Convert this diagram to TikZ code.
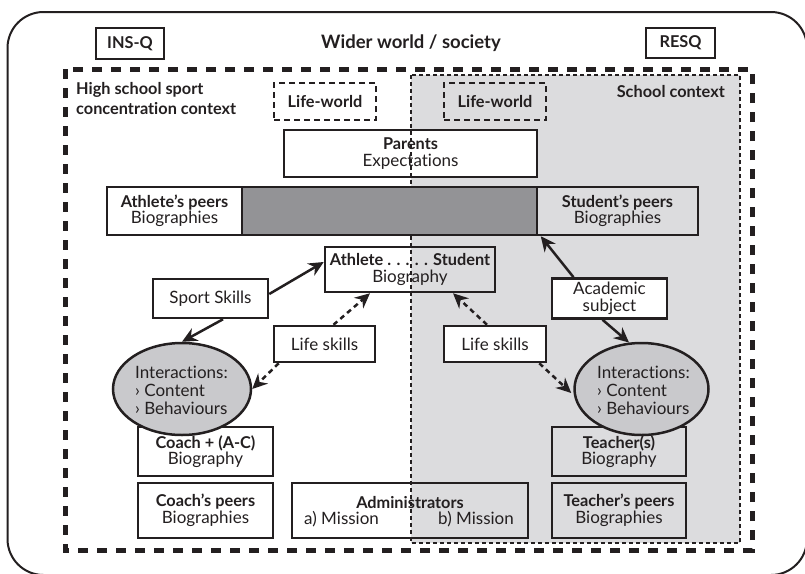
\documentclass[tikz,border=0pt]{standalone}
\usepackage{fontspec}
\setmainfont[Ligatures={NoCommon}]{Lato}
\usetikzlibrary{arrows.meta,calc,shapes.geometric}
\definecolor{ctxgray}{HTML}{DCDCDE}
\definecolor{bargray}{HTML}{939396}
\definecolor{ellgray}{HTML}{C9C9CC}
\definecolor{ink}{HTML}{231F20}
\newcommand{\rsz}{\fontsize{17}{16.5}\selectfont}
\newcommand{\bsz}{\fontsize{16.3}{16.5}\selectfont\bfseries}
\begin{document}
\begin{tikzpicture}[x=1pt,y=-1pt,
  txt/.style={font=\rsz, text=ink, inner sep=0pt},
  btxt/.style={font=\bsz, text=ink, inner sep=0pt},
  box/.style={draw=ink, line width=2.5pt, inner sep=0pt, align=center,
    font=\rsz, text=ink},
  wbox/.style={box, fill=white},
  lwbox/.style={draw=ink, line width=2pt, dash pattern=on 6pt off 4pt, inner sep=0pt,
    font=\bsz, text=ink},
  ellbox/.style={ellipse, draw=ink, line width=2.5pt, fill=ellgray, inner sep=0pt},
  arr/.style={draw=ink, line width=2.5pt, -{Stealth[length=15pt,width=14pt]}},
  darr/.style={arr, dash pattern=on 5pt off 4pt},
]
\useasboundingbox (0,0) rectangle (805,573);
% outer frame
\draw[ink, line width=2pt, rounded corners=36pt] (7.5,12) rectangle (807,575);
% school context fill
\fill[ctxgray] (411,75) rectangle (740,543);
% header
\node[box, line width=2pt, font=\bsz, minimum width=68pt, minimum height=31pt] (insq) at (130,43.5) {INS-Q};
\node[box, line width=2pt, font=\bsz, minimum width=69pt, minimum height=30pt] (resq) at (680.5,42.5) {RESQ};
\node[btxt, font=\fontsize{18.5}{19}\selectfont\bfseries] (wider) at (411,43) {Wider world / society};
% contexts
\node[btxt, align=left, anchor=north west, font=\fontsize{16.3}{20.5}\selectfont\bfseries] (hs) at (76,82) {High school sport\\concentration context};
\node[btxt, anchor=east] (sc) at (725,92) {School context};
\node[lwbox, minimum width=102pt, minimum height=37pt] (lw1) at (325,101.5) {Life-world};
\node[lwbox, minimum width=102pt, minimum height=37pt] (lw2) at (495,101.5) {Life-world};
% parents
\node[wbox, minimum width=253pt, minimum height=47pt] (par) at (410.5,153.5) {{\bsz Parents}\\Expectations};
% athlete box and other boxes
\node[box, minimum width=170pt, minimum height=45pt] (ath) at (410,269.5) {{\bsz Athlete . . . . . Student}\\Biography};
\node[wbox, minimum width=115pt, minimum height=39pt] (sport) at (210.5,298.5) {Sport Skills};
\node[wbox, minimum width=101pt, minimum height=36pt] (ls1) at (324.5,344) {Life skills};
\node[wbox, minimum width=102pt, minimum height=36pt] (ls2) at (495,344) {Life skills};
\node[wbox, minimum width=115pt, minimum height=40pt] (acad) at (609.5,298.5) {Academic\\subject};
\node[box, minimum width=135pt, minimum height=49pt] (coach) at (205.5,451.5) {{\bsz Coach + (A-C)}\\Biography};
\node[box, minimum width=134pt, minimum height=49pt] (teach) at (619,451.5) {{\bsz Teacher(s)}\\Biography};
\node[box, minimum width=135pt, minimum height=55pt] (cpeer) at (205.5,510.5) {{\bsz Coach’s peers}\\Biographies};
\node[box, minimum width=134pt, minimum height=55pt] (tpeer) at (619,510.5) {{\bsz Teacher’s peers}\\Biographies};
\node[box, minimum width=236pt, minimum height=55pt] (adm) at (410,510.5) {};
\node[btxt] (admt) at (410,503) {Administrators};
\node[txt, anchor=west] (ama) at (304,519) {a) Mission};
\node[txt, anchor=east] (amb) at (514,519) {b) Mission};
% ellipses
\node[ellbox, minimum width=138pt, minimum height=92pt] (e1) at (182,389) {};
\node[ellbox, minimum width=134pt, minimum height=92pt] (e2) at (641.5,389) {};
\node[txt, align=left, anchor=west, font=\fontsize{17}{18}\selectfont] (e1t) at (135,390) {Interactions:\\› Content\\› Behaviours};
\node[txt, align=left, anchor=west, font=\fontsize{17}{18}\selectfont] (e2t) at (597,390) {Interactions:\\› Content\\› Behaviours};
% school context border
\draw[ink, line width=1.5pt, dash pattern=on 4pt off 3pt] (411,75) rectangle (740,543);
% peers bar
\node[box, minimum width=135pt, minimum height=48pt] (apeer) at (174.5,211) {{\bsz Athlete’s peers}\\Biographies};
\node[box, fill=bargray, minimum width=295pt, minimum height=48pt] (bar) at (389.5,211) {};
\node[box, minimum width=161pt, minimum height=48pt] (speer) at (617.5,211) {{\bsz Student’s peers}\\Biographies};
% high school outer dashed
\draw[ink, line width=5pt, dash pattern=on 10pt off 9pt] (65,69) rectangle (752,550);
% arrows
\draw[arr] ($(sport.east)+(0,-4.5)$) -- ($(ath.west)+(0,-7.5)$);
\draw[arr] ($(sport.south)+(12.5,0)$) -- (e1.north);
\draw[darr] ($(ls1.north)+(9,0)$) -- ($(ath.south)+(-40,0)$);
\draw[darr] ($(ls1.south west)+(6,0)$) -- (e1.east);
\draw[darr] ($(ls2.north)+(-8,0)$) -- ($(ath.south)+(43,0)$);
\draw[darr] ($(ls2.south east)+(-8,0)$) -- ($(e2.west)+(-2,4)$);
\draw[arr] ($(acad.north)+(-36,0)$) -- ($(speer.south west)+(5,0)$);
\draw[arr] ($(acad.south)+(-7,0)$) -- (e2.105);
\end{tikzpicture}
\end{document}
